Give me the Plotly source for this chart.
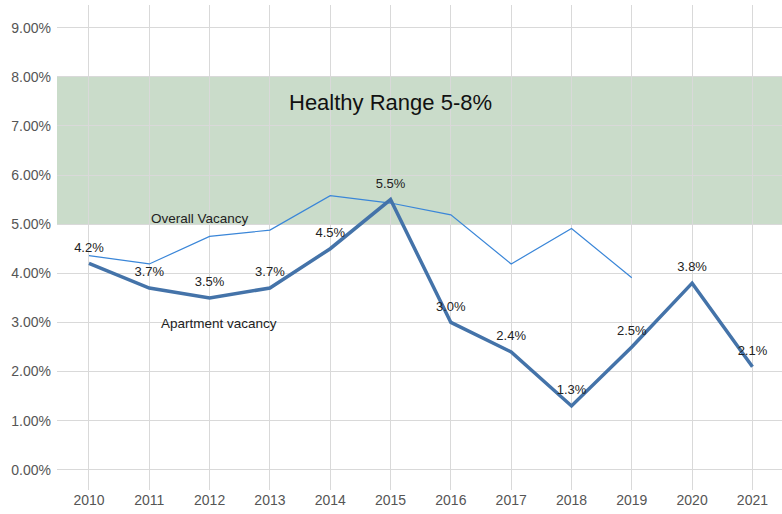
import plotly.graph_objects as go

years = [2010, 2011, 2012, 2013, 2014, 2015, 2016, 2017, 2018, 2019, 2020, 2021]
apartment_vacancy = [0.042, 0.037, 0.035, 0.037, 0.045, 0.055, 0.030, 0.024, 0.013, 0.025, 0.038, 0.021]
overall_years = [2010, 2011, 2012, 2013, 2014, 2015, 2016, 2017, 2018, 2019]
overall_vacancy = [0.0436, 0.0419, 0.0475, 0.0488, 0.0558, 0.0543, 0.0519, 0.0419, 0.0491, 0.0391]
healthy_low, healthy_high = 0.05, 0.08
y_ticks = [0, 0.01, 0.02, 0.03, 0.04, 0.05, 0.06, 0.07, 0.08, 0.09]

FONT = "Liberation Sans, Arial, sans-serif"

fig = go.Figure()

fig.add_shape(type="rect", xref="paper", yref="y", x0=0, x1=1,
              y0=healthy_low, y1=healthy_high,
              fillcolor="rgba(122,168,122,0.4)", line=dict(width=0),
              layer="between")

fig.add_trace(go.Scatter(
    x=overall_years, y=overall_vacancy, mode="lines",
    line=dict(color="#3a86d8", width=1.2), hoverinfo="skip", showlegend=False))

fig.add_trace(go.Scatter(
    x=years, y=apartment_vacancy, mode="lines+markers+text",
    line=dict(color="#4473a9", width=3.5),
    marker=dict(size=12, opacity=0),
    texttemplate="%{y:.1%}", textposition="top center",
    textfont=dict(family=FONT, size=13, color="#222222"),
    showlegend=False))

fig.add_annotation(x=2015.0, y=0.0747, text="Healthy Range 5-8%", showarrow=False,
                   font=dict(family=FONT, size=22, color="#111111"))
fig.add_annotation(x=2011.84, y=0.0511, text="Overall Vacancy", showarrow=False,
                   font=dict(family=FONT, size=13.5, color="#222222"))
fig.add_annotation(x=2012.16, y=0.0297, text="Apartment vacancy", showarrow=False,
                   font=dict(family=FONT, size=13.5, color="#222222"))

fig.update_layout(
    width=782, height=514,
    margin=dict(l=57, r=0, t=5, b=24),
    paper_bgcolor="white", plot_bgcolor="white",
    font=dict(family=FONT),
    xaxis=dict(range=[2009.47, 2021.49], tickvals=years, ticktext=[str(y) for y in years],
               showgrid=True, gridcolor="#d9d9d9", gridwidth=1, zeroline=False,
               showline=False, ticks="", tickfont=dict(size=14, color="#555555")),
    yaxis=dict(range=[-0.0041, 0.0946], tickvals=y_ticks, tickformat=".2%",
               showgrid=True, gridcolor="#d9d9d9", gridwidth=1, zeroline=False,
               showline=False, ticks="", ticklabelstandoff=5,
               tickfont=dict(size=14, color="#555555")),
)

fig.write_html("out.html", config={"displayModeBar": False},
               post_script="document.body.style.margin='0';")
